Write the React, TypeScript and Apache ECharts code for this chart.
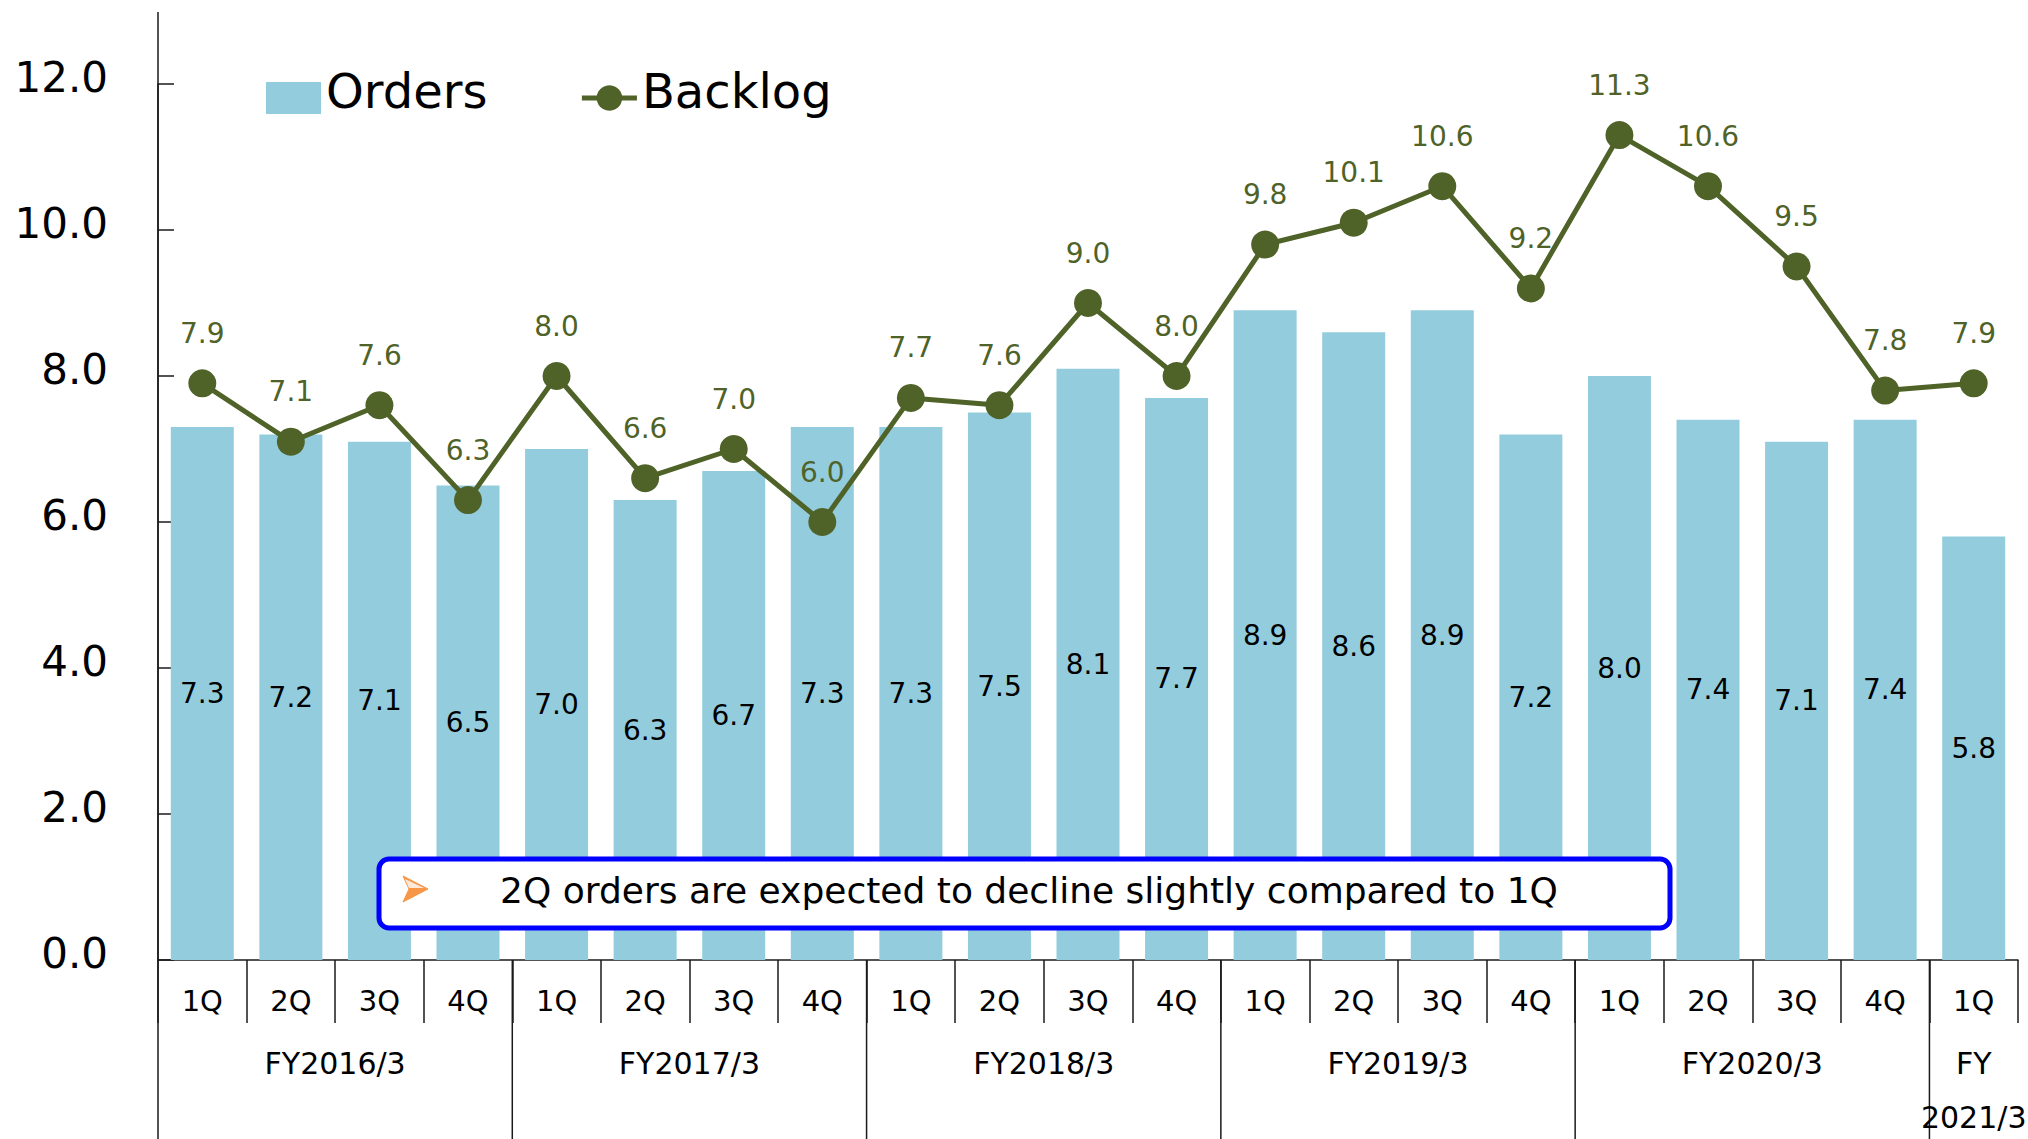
import React, { useEffect, useRef } from 'react';
import * as echarts from 'echarts';

const quarters = ['1Q', '2Q', '3Q', '4Q', '1Q', '2Q', '3Q', '4Q', '1Q', '2Q', '3Q', '4Q', '1Q', '2Q', '3Q', '4Q', '1Q', '2Q', '3Q', '4Q', '1Q'];
const orders = [7.3, 7.2, 7.1, 6.5, 7.0, 6.3, 6.7, 7.3, 7.3, 7.5, 8.1, 7.7, 8.9, 8.6, 8.9, 7.2, 8.0, 7.4, 7.1, 7.4, 5.8];
const backlog = [7.9, 7.1, 7.6, 6.3, 8.0, 6.6, 7.0, 6.0, 7.7, 7.6, 9.0, 8.0, 9.8, 10.1, 10.6, 9.2, 11.3, 10.6, 9.5, 7.8, 7.9];
const fiscalYears = ['FY2016/3', 'FY2017/3', 'FY2018/3', 'FY2019/3', 'FY2020/3', 'FY\n2021/3'];
const quartersPerYear = [4, 4, 4, 4, 4, 1];
const note = '2Q orders are expected to decline slightly compared to 1Q';

const FONT = '"DejaVu Sans", Verdana, sans-serif';
const AXIS = '#1a1a1a';
const BAR = '#93CDDD';
const LINE = '#4F6228';

export default function App() {
  const ref = useRef<HTMLDivElement>(null);
  useEffect(() => {
    const chart = echarts.init(ref.current!, null, { renderer: 'svg' });
    chart.setOption({
      animation: false,
      backgroundColor: '#ffffff',
      textStyle: { fontFamily: FONT },
      grid: { left: 158, right: 10, top: 84, bottom: 179, containLabel: false },
      legend: {
        left: 261,
        top: 62,
        itemWidth: 55,
        itemHeight: 32,
        itemGap: 92,
        formatter: (name: string) => '{t|' + name + '}',
        textStyle: {
          fontSize: 48,
          color: '#000',
          fontFamily: FONT,
          rich: {
            t: { fontSize: 48, color: '#000', fontFamily: FONT, padding: [0, 0, 14, 0] },
          },
        },
        data: [
          { name: 'Orders', icon: 'rect' },
          { name: 'Backlog', lineStyle: { width: 5 } },
        ],
      },
      xAxis: {
        type: 'category',
        data: quarters,
        boundaryGap: true,
        axisLine: { lineStyle: { color: AXIS, width: 1.5 } },
        axisTick: { show: true, interval: 0, length: 63, lineStyle: { color: AXIS, width: 1.5 } },
        axisLabel: { interval: 0, fontSize: 29, color: '#000', margin: 26, lineHeight: 29, fontFamily: FONT },
      },
      yAxis: {
        type: 'value',
        min: 0,
        max: 12,
        interval: 2,
        axisLine: { show: true, lineStyle: { color: AXIS, width: 1.5 } },
        axisTick: { show: true, inside: true, length: 16, lineStyle: { color: AXIS, width: 1.5 } },
        splitLine: { show: false },
        axisLabel: {
          formatter: (v: number) => v.toFixed(1),
          fontSize: 42,
          color: '#000',
          margin: 50,
          verticalAlign: 'bottom',
          lineHeight: 14,
          fontFamily: FONT,
        },
      },
      series: [
        {
          name: 'Orders',
          type: 'bar',
          data: orders,
          barWidth: 63,
          itemStyle: { color: BAR },
          label: {
            show: true,
            position: 'inside',
            fontSize: 28,
            color: '#000',
            textBorderWidth: 0,
            fontFamily: FONT,
            formatter: (p: any) => Number(p.value).toFixed(1),
          },
          z: 2,
        },
        {
          name: 'Backlog',
          type: 'line',
          data: backlog,
          symbol: 'circle',
          symbolSize: 28,
          lineStyle: { color: LINE, width: 5 },
          itemStyle: { color: LINE },
          label: {
            show: true,
            position: 'top',
            distance: 22,
            fontSize: 28,
            color: LINE,
            fontFamily: FONT,
            formatter: (p: any) => Number(p.value).toFixed(1),
          },
          z: 3,
        },
      ],
    });

    const px = (i: number) => chart.convertToPixel({ xAxisIndex: 0 }, i) as number;
    const band = px(1) - px(0);
    const left = px(0) - band / 2;
    const y0 = chart.convertToPixel({ yAxisIndex: 0 }, 0) as number;
    const bottom = 1139;

    const elements: any[] = [];
    elements.push({
      type: 'line',
      shape: { x1: left, y1: 12, x2: left, y2: bottom },
      style: { stroke: AXIS, lineWidth: 1.5 },
      z: 10,
    });
    let start = 0;
    fiscalYears.forEach((fy, k) => {
      const span = quartersPerYear[k];
      const cx = left + (start + span / 2) * band;
      elements.push({
        type: 'text',
        style: {
          text: fy,
          x: cx,
          y: 1036,
          textAlign: 'center',
          textVerticalAlign: 'top',
          fontSize: 30,
          lineHeight: 54,
          fontFamily: FONT,
          fill: '#000',
        },
        z: 10,
      });
      start += span;
      if (k < fiscalYears.length - 1) {
        const bx = left + start * band;
        elements.push({
          type: 'line',
          shape: { x1: bx, y1: y0, x2: bx, y2: bottom },
          style: { stroke: AXIS, lineWidth: 1.5 },
          z: 10,
        });
      }
    });

    // annotation box
    elements.push({
      type: 'rect',
      shape: { x: 379, y: 859, width: 1291, height: 69, r: 10 },
      style: { fill: '#ffffff', stroke: '#0000FF', lineWidth: 5 },
      z: 20,
    });
    elements.push({
      type: 'polygon',
      shape: { points: [[403, 876], [428, 889], [403, 902], [409, 889]] },
      style: { fill: '#F79646', stroke: '#F79646', lineWidth: 1 },
      z: 21,
    });
    elements.push({
      type: 'polygon',
      shape: { points: [[405, 879], [424, 888], [409, 888]] },
      style: { fill: '#FDE9D9' },
      z: 22,
    });
    elements.push({
      type: 'text',
      style: {
        text: note,
        x: 1029,
        y: 890,
        textAlign: 'center',
        textVerticalAlign: 'middle',
        fontSize: 36,
        fontFamily: FONT,
        fill: '#000',
      },
      z: 21,
    });

    chart.setOption({ graphic: { elements } });
    return () => chart.dispose();
  }, []);

  return (
    <div
      ref={ref}
      style={{ position: 'absolute', left: 0, top: 0, width: 2028, height: 1139 }}
    />
  );
}
